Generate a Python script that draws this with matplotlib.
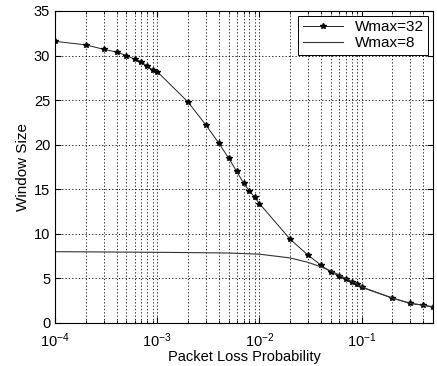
import matplotlib
matplotlib.use("Agg")
import matplotlib.pyplot as plt
from matplotlib.ticker import LogLocator, NullFormatter

p32 = [1e-4, 2e-4, 3e-4, 4e-4, 5e-4, 6e-4, 7e-4, 8e-4, 9e-4, 1e-3,
       2e-3, 3e-3, 4e-3, 5e-3, 6e-3, 7e-3, 8e-3, 9e-3, 1e-2,
       2e-2, 3e-2, 4e-2, 5e-2, 6e-2, 7e-2, 8e-2, 9e-2, 1e-1,
       2e-1, 3e-1, 4e-1, 5e-1]
w32 = [31.6, 31.2, 30.7, 30.4, 30.0, 29.6, 29.3, 28.8, 28.4, 28.2,
       24.8, 22.2, 20.2, 18.5, 17.0, 15.7, 14.8, 14.1, 13.4,
       9.4, 7.6, 6.5, 5.7, 5.3, 4.9, 4.6, 4.4, 4.0,
       2.8, 2.2, 2.0, 1.8]

p8 = [1e-4, 2e-4, 5e-4, 1e-3, 2e-3, 5e-3, 1e-2, 2e-2, 3e-2, 4e-2,
      5e-2, 6e-2, 7e-2, 8e-2, 9e-2, 1e-1, 2e-1, 3e-1, 4e-1, 5e-1]
w8 = [8.0, 7.98, 7.95, 7.93, 7.9, 7.85, 7.72, 7.3, 6.8, 6.3,
      5.85, 5.4, 5.0, 4.65, 4.4, 4.05, 2.8, 2.2, 2.0, 1.8]

xticks = [1e-4, 1e-3, 1e-2, 1e-1]
xticklabels = [r"$10^{-4}$", r"$10^{-3}$", r"$10^{-2}$", r"$10^{-1}$"]
yticks = [0, 5, 10, 15, 20, 25, 30, 35]

plt.rcParams["font.family"] = ["Liberation Sans", "DejaVu Sans"]
plt.rcParams["mathtext.fontset"] = "custom"
plt.rcParams["mathtext.rm"] = "Liberation Sans"
plt.rcParams["mathtext.it"] = "Liberation Sans"

fig = plt.figure(figsize=(4.37, 3.66), dpi=100)
ax = fig.add_axes([55/437, 1-323/366, (433-55)/437, (323-11)/366])

ax.plot(p32, w32, color="#222222", lw=0.7, marker="*", ms=3.8,
        mfc="black", mec="black", label="Wmax=32")
ax.plot(p8, w8, color="#333333", lw=0.8, label="Wmax=8")

ax.set_xscale("log")
ax.set_xlim(1e-4, 0.5)
ax.set_ylim(0, 35)
ax.set_xticks(xticks)
ax.set_xticklabels(xticklabels)
ax.xaxis.set_minor_locator(LogLocator(base=10, subs=range(2, 10), numticks=20))
ax.xaxis.set_minor_formatter(NullFormatter())
ax.set_yticks(yticks)

ax.grid(True, which="major", color="black", ls=(0, (1.5, 2.5)), lw=0.6)
ax.grid(True, which="minor", axis="x", color="black", ls=(0, (1.5, 2.5)), lw=0.6)

ax.tick_params(which="both", direction="in", top=True, right=True, labelsize=10.5)
ax.tick_params(which="major", length=4)
ax.tick_params(which="minor", length=2)
ax.tick_params(axis="x", which="major", pad=6)
for s in ax.spines.values():
    s.set_linewidth(0.8)

ax.set_xlabel("Packet Loss Probability", fontsize=10.5, labelpad=0)
ax.set_ylabel("Window Size", fontsize=11, labelpad=3)

leg = ax.legend(loc="upper right", fontsize=11, fancybox=False, framealpha=1,
                edgecolor="black", borderaxespad=0.3, handlelength=2.6,
                labelspacing=0.15, borderpad=0.3)
leg.get_frame().set_linewidth(0.7)

fig.savefig("out.png", dpi=100)
